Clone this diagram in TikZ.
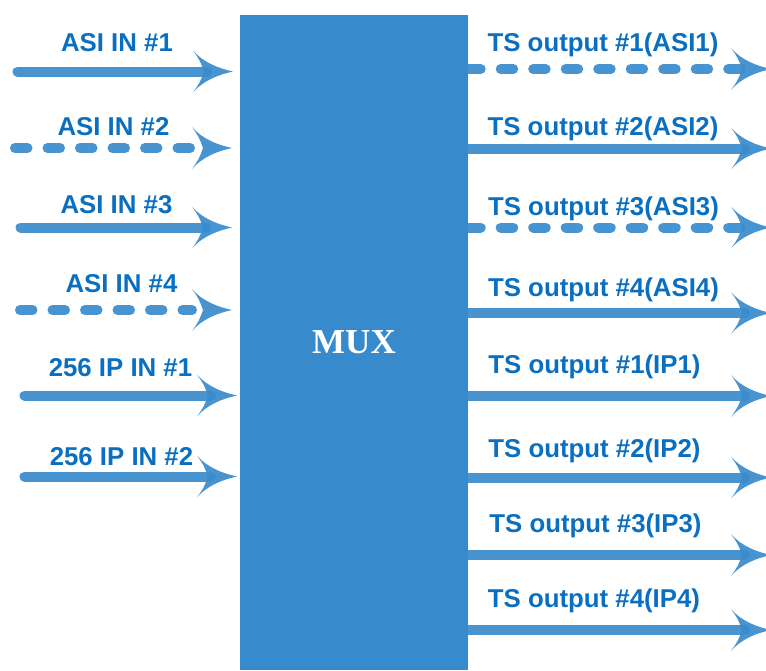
\documentclass[tikz,border=0pt]{standalone}
\usepackage{fontspec}
\setmainfont{Liberation Sans}
\newfontfamily\muxfont{Liberation Serif}
\definecolor{boxblue}{RGB}{55,139,205}
\definecolor{wireblue}{RGB}{56,139,205}
\definecolor{txtblue}{RGB}{10,111,192}
\begin{document}
\begin{tikzpicture}[x=1pt,y=-1pt,
  wire/.style={draw=wireblue,line width=10pt,line cap=round,draw opacity=.92},
  dwire/.style={wire,dash pattern=on 12.5pt off 20pt},
  lbl/.style={text=txtblue,font=\fontsize{25.8}{26}\selectfont\bfseries,anchor=base,inner sep=0pt},
  headR/.pic={\fill[wireblue,fill opacity=.92] (0,0) .. controls (-14,3) and (-30,9) .. (-40,21)
      .. controls (-33,11) .. (-29,0) .. controls (-33,-11) .. (-40,-21)
      .. controls (-30,-9) and (-14,-3) .. (0,0) -- cycle;}]
\useasboundingbox (0,0) rectangle (766,670);
% MUX box
\node[fill=boxblue,minimum width=228pt,minimum height=655pt,inner sep=0pt,
  text=white,font=\muxfont\fontsize{35}{35}\selectfont\bfseries] (mux) at (354,342.5) {MUX};
% inputs
\coordinate (i1s) at (17.5,71.5);  \coordinate (i1t) at (233,71.5);
\coordinate (i2s) at (15,148);     \coordinate (i2t) at (232,148);
\coordinate (i3s) at (20.5,227.5); \coordinate (i3t) at (232,227.5);
\coordinate (i4s) at (20,310);     \coordinate (i4t) at (232,310);
\coordinate (i5s) at (24.5,395.5); \coordinate (i5t) at (237,395.5);
\coordinate (i6s) at (24.5,476.5); \coordinate (i6t) at (237,476.5);
\draw[wire]  (i1s) -- ([xshift=-26pt]i1t); \pic at (i1t) {headR};
\draw[dwire] (i2s) -- ([xshift=-40pt]i2t); \pic at (i2t) {headR};
\draw[wire]  (i3s) -- ([xshift=-26pt]i3t); \pic at (i3t) {headR};
\draw[dwire] (i4s) -- ([xshift=-40pt]i4t); \pic at (i4t) {headR};
\draw[wire]  (i5s) -- ([xshift=-26pt]i5t); \pic at (i5t) {headR};
\draw[wire]  (i6s) -- ([xshift=-26pt]i6t); \pic at (i6t) {headR};
\node[lbl] (li1) at (117,51.5) {ASI IN \#1};
\node[lbl] (li2) at (113.5,135.5) {ASI IN \#2};
\node[lbl] (li3) at (116.5,213) {ASI IN \#3};
\node[lbl] (li4) at (121.5,292) {ASI IN \#4};
\node[lbl] (li5) at (120.5,376.5) {256 IP IN \#1};
\node[lbl] (li6) at (121.5,465) {256 IP IN \#2};
% outputs
\coordinate (o1s) at (mux.east |- 0,69);    \coordinate (o1t) at (771,69);
\coordinate (o2s) at (mux.east |- 0,148.5); \coordinate (o2t) at (771,148.5);
\coordinate (o3s) at (mux.east |- 0,227.5); \coordinate (o3t) at (771,227.5);
\coordinate (o4s) at (mux.east |- 0,313);   \coordinate (o4t) at (771,313);
\coordinate (o5s) at (mux.east |- 0,396);   \coordinate (o5t) at (771,396);
\coordinate (o6s) at (mux.east |- 0,477.5); \coordinate (o6t) at (771,477.5);
\coordinate (o7s) at (mux.east |- 0,555);   \coordinate (o7t) at (771,555);
\coordinate (o8s) at (mux.east |- 0,630);   \coordinate (o8t) at (771,630);
\draw[dwire] (o1s) -- ([xshift=-30pt]o1t); \pic at (o1t) {headR};
\draw[wire]  (o2s) -- ([xshift=-26pt]o2t); \pic at (o2t) {headR};
\draw[dwire] (o3s) -- ([xshift=-30pt]o3t); \pic at (o3t) {headR};
\draw[wire]  (o4s) -- ([xshift=-26pt]o4t); \pic at (o4t) {headR};
\draw[wire]  (o5s) -- ([xshift=-26pt]o5t); \pic at (o5t) {headR};
\draw[wire]  (o6s) -- ([xshift=-26pt]o6t); \pic at (o6t) {headR};
\draw[wire]  (o7s) -- ([xshift=-26pt]o7t); \pic at (o7t) {headR};
\draw[wire]  (o8s) -- ([xshift=-26pt]o8t); \pic at (o8t) {headR};
\node[lbl] (lo1) at (603,51.5) {TS output \#1(ASI1)};
\node[lbl] (lo2) at (603,135.5) {TS output \#2(ASI2)};
\node[lbl] (lo3) at (603.5,215) {TS output \#3(ASI3)};
\node[lbl] (lo4) at (603.5,296.5) {TS output \#4(ASI4)};
\node[lbl] (lo5) at (594.5,373) {TS output \#1(IP1)};
\node[lbl] (lo6) at (594.5,457) {TS output \#2(IP2)};
\node[lbl] (lo7) at (595.5,532) {TS output \#3(IP3)};
\node[lbl] (lo8) at (594,607) {TS output \#4(IP4)};
\end{tikzpicture}
\end{document}
